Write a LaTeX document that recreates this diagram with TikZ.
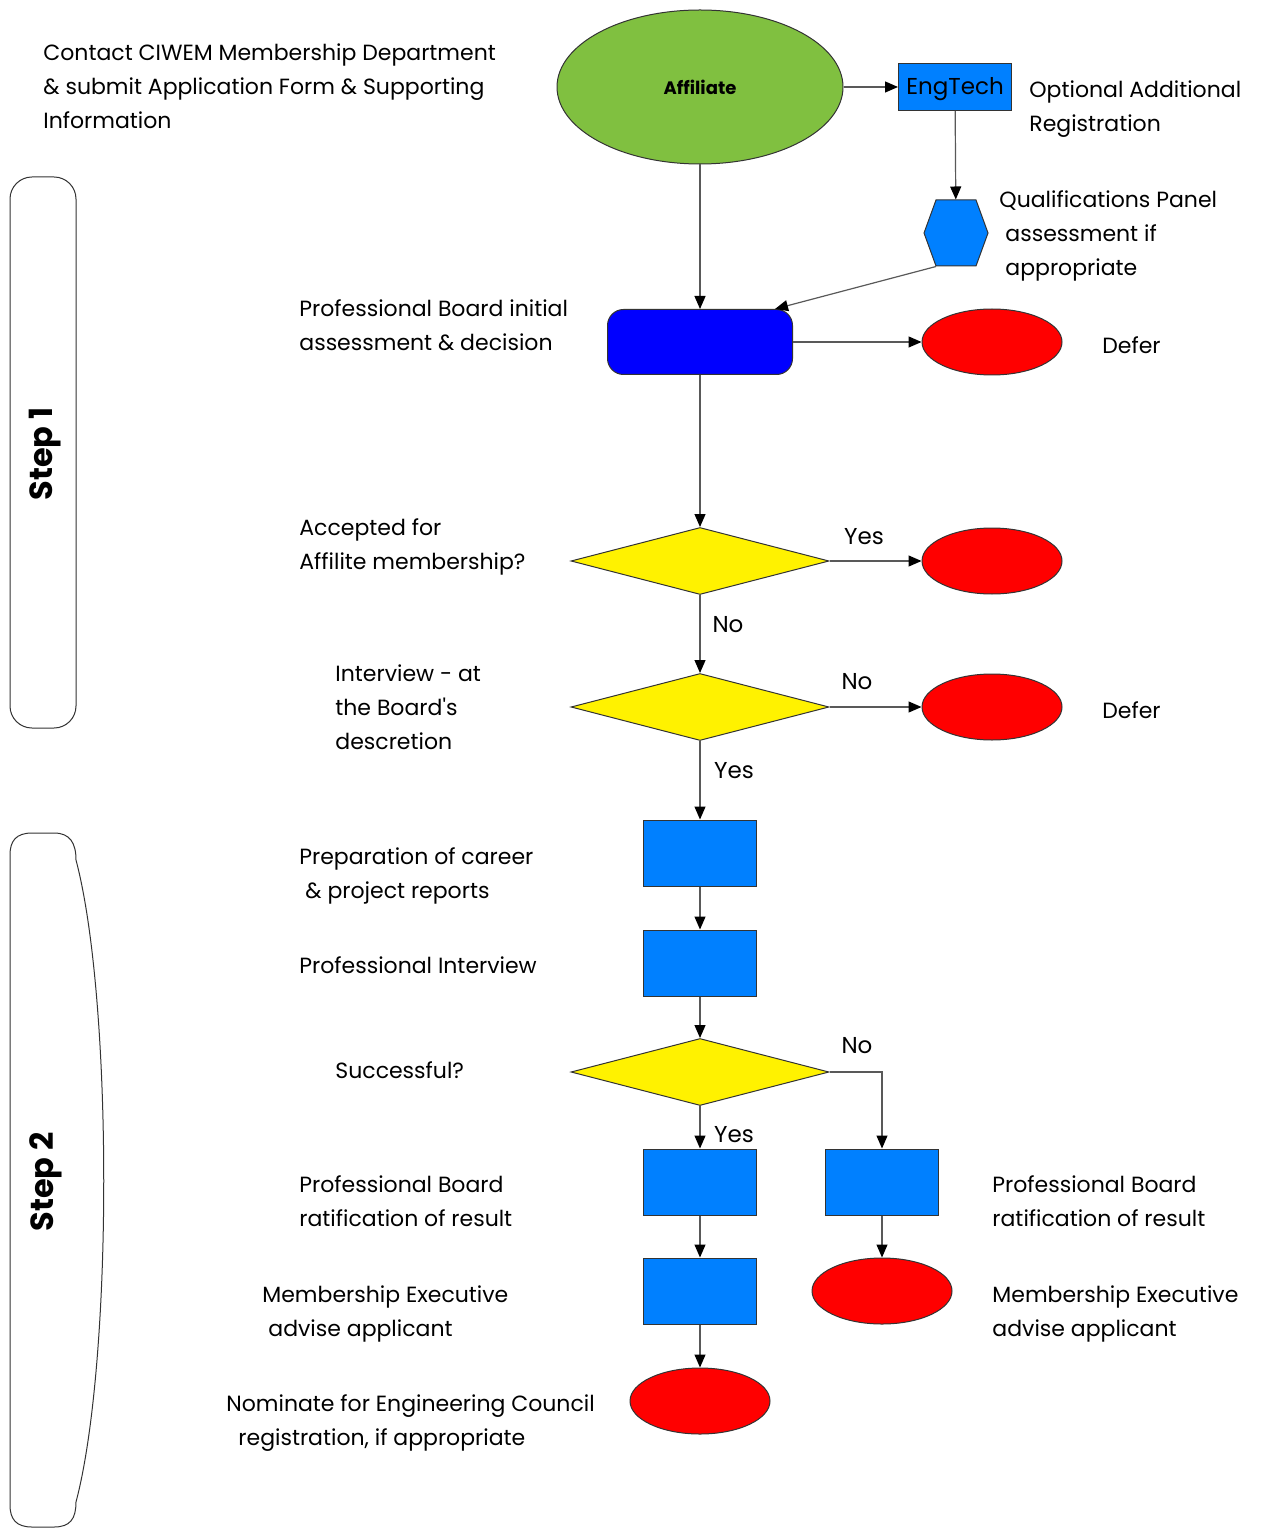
\documentclass[tikz,border=0pt]{standalone}
\usepackage{fontspec}
\setmainfont{Poppins}
\usetikzlibrary{shapes.geometric,shapes.symbols,arrows.meta,calc}

\definecolor{affgreen}{RGB}{128,192,64}
\definecolor{boxblue}{RGB}{0,128,255}
\definecolor{deepblue}{RGB}{0,0,255}

\tikzset{
  line/.style = {draw=black!65, line width=0.6pt},
  arr/.style = {line, -{Triangle[length=6.5pt,width=5.5pt,color=black]}},
  shp/.style = {draw=black!80, line width=0.5pt, inner sep=0pt},
  procbox/.style = {shp, rectangle, fill=boxblue, minimum width=56.5pt, minimum height=33pt},
  endoval/.style = {shp, ellipse, fill=red, minimum width=70pt, minimum height=33pt},
  decide/.style = {shp, diamond, fill=yellow, minimum width=129pt, minimum height=33.5pt},
  txt/.style = {anchor=west, align=left, inner sep=0pt, font=\fontsize{11}{17}\selectfont},
  lbl/.style = {inner sep=0pt, font=\fontsize{11.5}{14}\selectfont},
  steplbl/.style = {rotate=90, inner sep=0pt, font=\fontsize{16}{18}\selectfont\bfseries}
}

\begin{document}
\begin{tikzpicture}[x=0.5pt, y=-0.5pt]
  \useasboundingbox (0,0) rectangle (1260,1529);
  \node[shp, ellipse, fill=affgreen, minimum width=143pt, minimum height=77pt, font=\fontsize{9}{10}\selectfont\bfseries] (aff) at (700,87) {Affiliate};
  \node[procbox, minimum height=23.5pt, text height=10pt, text depth=2pt, font=\fontsize{11.5}{14}\selectfont] (eng) at (955,87) {EngTech};
  \node[shp, signal, signal to=west and east, signal pointer angle=140, fill=boxblue, minimum width=32pt, minimum height=33pt] (hex) at (956,233) {};
  \node[shp, rectangle, rounded corners=8pt, fill=deepblue, minimum width=92.5pt, minimum height=32.5pt] (pb) at (700,342) {};
  \node[endoval] (def1) at (992,342) {};
  \node[decide] (acc) at (700,561) {};
  \node[endoval] (yes1) at (992,561) {};
  \node[decide] (intv) at (700,707) {};
  \node[endoval] (def2) at (992,707) {};
  \node[procbox] (prep) at (700,853) {};
  \node[procbox] (pint) at (700,963) {};
  \node[decide] (succ) at (700,1072) {};
  \node[procbox] (ratl) at (700,1182) {};
  \node[procbox] (ratr) at (882,1182) {};
  \node[procbox] (advl) at (700,1291) {};
  \node[endoval] (advr) at (882,1291) {};
  \node[endoval] (nom) at (700,1401) {};
  \draw[arr] (aff) -- (eng);
  \draw[arr] (eng) -- (hex);
  \draw[arr] ($(hex.south)+(-10pt,0)$) -- ($(pb.north east)+(-9pt,0)$);
  \draw[arr] (aff) -- (pb);
  \draw[arr] (pb) -- (def1);
  \draw[arr] (pb) -- (acc);
  \draw[arr] (acc) -- (yes1);
  \draw[arr] (acc) -- (intv);
  \draw[arr] (intv) -- (def2);
  \draw[arr] (intv) -- (prep);
  \draw[arr] (prep) -- (pint);
  \draw[arr] (pint) -- (succ);
  \draw[arr] (succ) -- (ratl);
  \draw[arr] (succ.east) -| (ratr);
  \draw[arr] (ratl) -- (advl);
  \draw[arr] (ratr) -- (advr);
  \draw[arr] (advl) -- (nom);
  \node[lbl] (y1) at (864,537) {Yes};
  \node[lbl] (n1) at (728,625) {No};
  \node[lbl] (n2) at (857,682) {No};
  \node[lbl] (y2) at (734,771) {Yes};
  \node[lbl] (n3) at (857,1046) {No};
  \node[lbl] (y3) at (734,1135) {Yes};
  \node[txt] (t0) at (43,86) {Contact CIWEM Membership Department\\\& submit Application Form \& Supporting\\Information};
  \node[txt] (t1) at (1029,109) {Optional Additional\\Registration};
  \node[txt] (t2) at (999,236) {Qualifications Panel\\\hspace*{3pt}assessment if\\\hspace*{3pt}appropriate};
  \node[txt] (t3) at (299,325) {Professional Board initial\\assessment \& decision};
  \node[txt] (t4) at (1102,345) {Defer};
  \node[txt] (t5) at (299,547) {Accepted for\\Affilite membership?};
  \node[txt] (t6) at (335,707) {Interview - at\\the Board\textquotesingle s\\descretion};
  \node[txt] (t7) at (1102,710) {Defer};
  \node[txt] (t8) at (299,876) {Preparation of career\\\hspace*{3pt}\& project reports};
  \node[txt] (t9) at (299,965) {Professional Interview};
  \node[txt] (t10) at (335,1070) {Successful?};
  \node[txt] (t11) at (299,1201) {Professional Board\\ratification of result};
  \node[txt] (t12) at (992,1201) {Professional Board\\ratification of result};
  \node[txt] (t13) at (262,1314) {Membership Executive\\\hspace*{3pt}advise applicant};
  \node[txt] (t14) at (992,1314) {Membership Executive\\advise applicant};
  \node[txt] (t15) at (226,1423) {Nominate for Engineering Council\\\hspace*{6pt}registration, if appropriate};
  \draw[shp, rounded corners=11pt] (10,177) rectangle (76,728);
  \draw[shp] (32,833) -- (54,833) .. controls (70,833) and (76,843) .. (76,860)
    .. controls (113,1000) and (113,1362) .. (76,1502)
    .. controls (76,1519) and (70,1527) .. (54,1527) -- (32,1527)
    .. controls (16,1527) and (10,1519) .. (10,1505) -- (10,855)
    .. controls (10,841) and (16,833) .. (32,833) -- cycle;
  \node[steplbl] (s1) at (45,454) {Step 1};
  \node[steplbl] (s2) at (46,1182) {Step 2};
\end{tikzpicture}
\end{document}
